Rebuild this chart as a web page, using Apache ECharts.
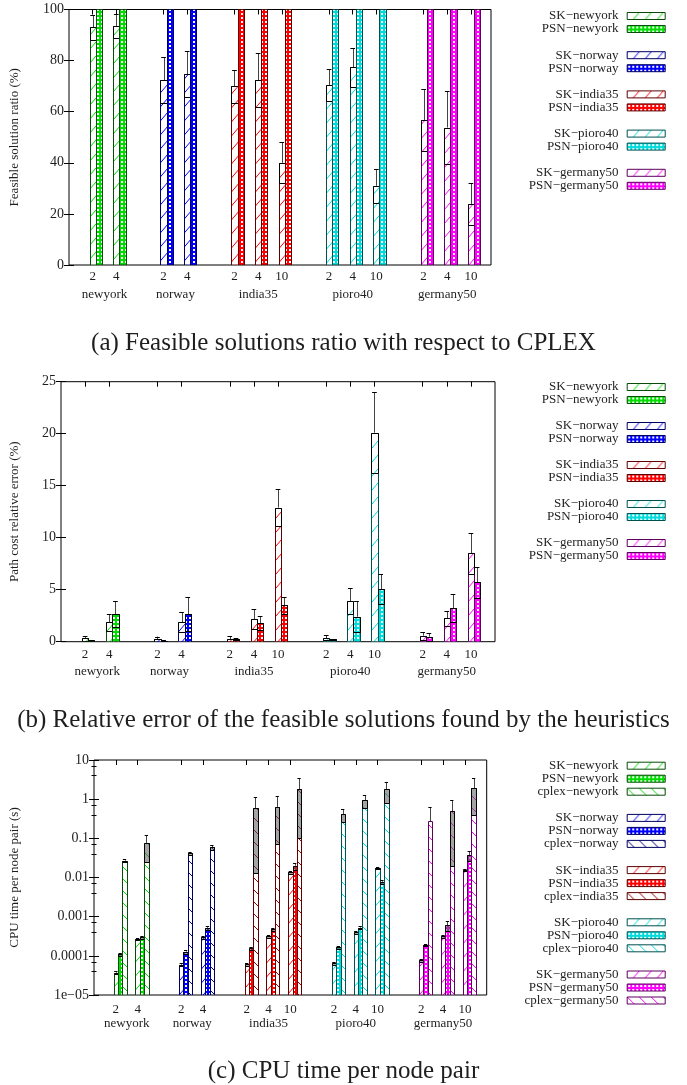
<!DOCTYPE html>
<html>
<head>
<meta charset="utf-8">
<script src="https://cdn.jsdelivr.net/npm/echarts@6/dist/echarts.min.js"></script>
<style>
  html, body { margin: 0; padding: 0; background: #fff; }
  #chart { width: 687px; height: 1085px; }
</style>
</head>
<body>
<div id="chart"></div>
<script>
// ---- data -------------------------------------------------------------
const groupNames = ['newyork', 'norway', 'india35', 'pioro40', 'germany50'];
const groupKs = [[2, 4], [2, 4], [2, 4, 10], [2, 4, 10], [2, 4, 10]];

// (a) feasible solution ratio (%)
const skRatio     = [[93.0, 93.5], [72.3, 74.7], [70.0, 72.3, 40.0], [70.4, 77.3, 31.0], [56.7, 53.8, 23.9]];
const skRatioErr  = [[5.0, 4.8], [9.0, 9.0], [6.5, 10.5, 8.0], [6.3, 7.5, 6.6], [12.0, 14.4, 8.3]];
const psnRatio    = [[100, 100], [100, 100], [100, 100, 100], [100, 100, 100], [100, 100, 100]];
const psnRatioErr = [[0, 0], [0, 0], [0, 0, 0], [0, 0, 0], [0, 0, 0]];

// (b) path cost relative error (%)
const skRelErr     = [[0.32, 1.86], [0.22, 1.86], [0.29, 2.15, 12.9], [0.38, 3.9, 20.1], [0.58, 2.24, 8.49]];
const skRelErrDev  = [[0.26, 0.85], [0.26, 0.96], [0.29, 0.96, 1.75], [0.26, 1.25, 3.9], [0.38, 0.72, 1.95]];
const psnRelErr    = [[0.16, 2.63], [0.10, 2.66], [0.22, 1.76, 3.49], [0.22, 2.4, 5.03], [0.48, 3.2, 5.7]];
const psnRelErrDev = [[0.05, 1.25], [0.05, 1.65], [0.10, 0.68, 0.8], [0.06, 1.5, 1.44], [0.38, 1.35, 1.45]];

// (c) CPU time per node pair (s)
const skTime      = [[3.7e-5, 2.7e-4], [5.9e-5, 2.95e-4], [6.1e-5, 3.2e-4, 0.0138], [6.5e-5, 4.0e-4, 0.0178], [7.7e-5, 3.2e-4, 0.0155]];
const skTimeDev   = [[0.3e-5, 0.2e-4], [0.5e-5, 0.25e-4], [0.5e-5, 0.3e-4, 0.0012], [0.5e-5, 0.3e-4, 0.001], [0.6e-5, 0.3e-4, 0.001]];
const psnTime     = [[1.1e-4, 2.95e-4], [1.28e-4, 5.2e-4], [1.55e-4, 4.75e-4, 0.020], [1.65e-4, 5.25e-4, 0.0078], [1.89e-4, 6.1e-4, 0.0375]];
const psnTimeDev  = [[0.1e-4, 0.2e-4], [0.15e-4, 0.6e-4], [0.1e-4, 0.4e-4, 0.004], [0.15e-4, 0.4e-4, 0.0008], [0.15e-4, 1.8e-4, 0.0105]];
const cplexTime   = [[0.027, 0.0745], [0.0414, 0.0589], [0.583, 0.63, 1.78], [0.41, 0.93, 1.78], [0.277, 0.5, 1.89]];
const cplexTimeDev= [[0.002, 0.05], [0.003, 0.008], [0.57, 0.56, 1.68], [0.15, 0.33, 1.0], [0.34, 0.48, 1.5]];

const logTickLabels = ['1e\u221205', '0.0001', '0.001', '0.01', '0.1', '1', '10'];

const captions = [
  '(a) Feasible solutions ratio with respect to CPLEX',
  '(b) Relative error of the feasible solutions found by the heuristics',
  '(c) CPU time per node pair'
];

// ---- styling ------------------------------------------------------------
const FONT = 'Liberation Serif';
const TXT = '#1e1e1e';
const MINUS = '\u2212';

const groupColor  = ['#00dd00', '#0000ff', '#ff0000', '#00dcdc', '#ff00ff'];
const groupBorder = ['#0a4a0a', '#000060', '#5e0000', '#005050', '#5e005e'];
const cplexColor  = ['#00dd00', '#000080', '#a00000', '#00dcdc', '#ff00ff'];

function hatch(color, dir, w, h) {
  const c = document.createElement('canvas');
  c.width = w; c.height = h;
  const g = c.getContext('2d');
  g.fillStyle = '#fff';
  g.fillRect(0, 0, w, h);
  g.strokeStyle = color;
  g.lineWidth = 1;
  g.beginPath();
  for (let k = -1; k <= 1; k++) {
    if (dir === '/') { g.moveTo(k * w, h); g.lineTo((k + 1) * w, 0); }
    else { g.moveTo(k * w, 0); g.lineTo((k + 1) * w, h); }
  }
  g.stroke();
  return { image: c, repeat: 'repeat' };
}
function dots(color) {
  const c = document.createElement('canvas');
  c.width = 4; c.height = 4;
  const g = c.getContext('2d');
  g.fillStyle = color;
  g.fillRect(0, 0, 4, 4);
  g.fillStyle = '#fff';
  g.fillRect(1, 1, 2, 2);
  return { image: c, repeat: 'repeat' };
}

// x positions: one slot per K, one empty slot between networks
const groupPos = [];
(function () {
  let p = 1;
  groupKs.forEach(ks => {
    groupPos.push(ks.map(() => p++));
    p++;
  });
})();
const tickPos = groupPos.flat();
const tickText = {};
groupPos.forEach((ps, g) => ps.forEach((p, i) => { tickText[p] = String(groupKs[g][i]); }));
const groupMid = groupPos.map(ps => (ps[0] + ps[ps.length - 1]) / 2);
const midText = {};
groupMid.forEach((m, g) => { midText[m] = groupNames[g]; });

// ---- panels ---------------------------------------------------------------
const panels = [
  {
    grid: { left: 68.3, top: 9.5, width: 422.7, height: 255.5 },
    xMax: 17.85, barW: 0.262, log: false, yMin: 0, yMax: 100, yStep: 20,
    yName: 'Feasible solution ratio (%)', nameGap: 48,
    numMargin: 5, nameMargin: 23, boxFill: null,
    methods: [
      { tag: 'SK', vals: skRatio, errs: skRatioErr, kind: 'sk' },
      { tag: 'PSN', vals: psnRatio, errs: psnRatioErr, kind: 'psn' }
    ],
    legendTop: 9.5, legendStep: 39.2, caption: 340
  },
  {
    grid: { left: 60, top: 381.7, width: 435, height: 260 },
    xMax: 18, barW: 0.257, log: false, yMin: 0, yMax: 25, yStep: 5,
    yName: 'Path cost relative error (%)', nameGap: 40,
    numMargin: 6.5, nameMargin: 23, boxFill: null,
    methods: [
      { tag: 'SK', vals: skRelErr, errs: skRelErrDev, kind: 'sk' },
      { tag: 'PSN', vals: psnRelErr, errs: psnRelErrDev, kind: 'psn' }
    ],
    legendTop: 380.5, legendStep: 39, caption: 717
  },
  {
    grid: { left: 91.7, top: 760, width: 395, height: 235 },
    xMax: 18, barW: 0.2, log: true, yMin: 1e-5, yMax: 10, yStep: 1,
    yName: 'CPU time per node pair (s)', nameGap: 73,
    numMargin: 8, nameMargin: 22.5, boxFill: 'rgba(90,90,90,0.55)',
    methods: [
      { tag: 'SK', vals: skTime, errs: skTimeDev, kind: 'sk' },
      { tag: 'PSN', vals: psnTime, errs: psnTimeDev, kind: 'psn' },
      { tag: 'cplex', vals: cplexTime, errs: cplexTimeDev, kind: 'cplex' }
    ],
    legendTop: 759.2, legendStep: 52.2, caption: 1068
  }
];

function crisp(v) { return Math.round(v) + 0.5; }

function makeRender(panel, slot, fill, stroke) {
  return function (params, api) {
    const x = api.value(0), m = api.value(1), e = api.value(2);
    const cs = params.coordSys;
    const p0 = api.coord([x, m]);
    const unit = api.coord([x + 1, m])[0] - p0[0];
    const bw = unit * panel.barW;
    const cx = p0[0] + slot * bw;
    const yTop = p0[1];
    const yBase = cs.y + cs.height;
    const xl = crisp(cx - bw / 2), xr = crisp(cx + bw / 2);
    const children = [{
      type: 'rect',
      shape: { x: xl, y: crisp(yTop), width: xr - xl, height: yBase - crisp(yTop) },
      style: { fill: fill, stroke: stroke, lineWidth: 1 }
    }];
    if (e > 0) {
      const yHi = Math.max(api.coord([x, m + e])[1], cs.y);
      const lo = m - e;
      const hasLo = panel.log ? lo > panel.yMin : true;
      const yLo = hasLo ? api.coord([x, Math.max(lo, panel.yMin)])[1] : yBase;
      const xc = crisp(cx);
      const capHalf = Math.max(1.5, bw * 0.38);
      children.push({
        type: 'line',
        shape: { x1: xc, y1: yTop, x2: xc, y2: crisp(yHi) },
        style: { stroke: '#444', lineWidth: 1 }
      });
      children.push({
        type: 'line',
        shape: { x1: cx - capHalf, y1: crisp(yHi), x2: cx + capHalf, y2: crisp(yHi) },
        style: { stroke: '#000', lineWidth: 1 }
      });
      if (hasLo) {
        children.push({
          type: 'rect',
          shape: { x: xl, y: crisp(yTop), width: xr - xl, height: crisp(yLo) - crisp(yTop) },
          style: { fill: panel.boxFill || 'none', stroke: '#000', lineWidth: 1 }
        });
      }
    }
    return { type: 'group', children: children };
  };
}

const grids = [], xAxes = [], yAxes = [], series = [], legends = [], titles = [];

panels.forEach((pn, pi) => {
  grids.push(Object.assign({ show: true, borderColor: '#000', borderWidth: 1, backgroundColor: 'transparent' }, pn.grid));

  const xBase = { gridIndex: pi, type: 'value', min: 0, max: pn.xMax, splitLine: { show: false }, axisLine: { show: false } };
  // K labels + bottom ticks
  xAxes.push(Object.assign({}, xBase, {
    position: 'bottom',
    axisTick: { show: true, inside: true, length: 5, customValues: tickPos, lineStyle: { color: '#000' } },
    axisLabel: {
      customValues: tickPos, margin: pn.numMargin,
      formatter: v => tickText[v] || '',
      fontFamily: FONT, fontSize: 13, color: TXT
    }
  }));
  const xMain = xAxes.length - 1;
  // network names
  xAxes.push(Object.assign({}, xBase, {
    position: 'bottom',
    axisTick: { show: false },
    axisLabel: {
      customValues: groupMid, margin: pn.nameMargin,
      formatter: v => midText[v] || '',
      fontFamily: FONT, fontSize: 13, color: TXT
    }
  }));
  // mirrored top ticks
  xAxes.push(Object.assign({}, xBase, {
    position: 'top',
    axisTick: { show: true, inside: true, length: 5, customValues: tickPos, lineStyle: { color: '#000' } },
    axisLabel: { show: false }
  }));

  const yBase = {
    gridIndex: pi, type: pn.log ? 'log' : 'value', min: pn.yMin, max: pn.yMax,
    splitLine: { show: false }, axisLine: { show: false },
    axisTick: { show: true, inside: true, length: 5, lineStyle: { color: '#000' } },
    minorTick: pn.log ? { show: true, splitNumber: 3, length: 2.5, lineStyle: { color: '#000' } } : { show: false }
  };
  if (pn.log) { yBase.logBase = 10; } else { yBase.interval = pn.yStep; }
  yAxes.push(Object.assign({}, yBase, {
    position: 'left',
    axisLabel: {
      margin: 5, fontFamily: FONT, fontSize: 14, color: TXT,
      formatter: pn.log ? (v => logTickLabels[Math.round(Math.log10(v)) + 5]) : (v => String(v))
    },
    name: pn.yName, nameLocation: 'middle', nameRotate: 90, nameGap: pn.nameGap,
    nameTextStyle: { fontFamily: FONT, fontSize: 13, color: TXT }
  }));
  const yMain = yAxes.length - 1;
  yAxes.push(Object.assign({}, yBase, { position: 'right', axisLabel: { show: false } }));

  groupNames.forEach((gname, g) => {
    const names = [];
    pn.methods.forEach((md, slot) => {
      let fill;
      if (md.kind === 'sk') fill = hatch(groupColor[g], '/', 12, 14);
      else if (md.kind === 'psn') fill = dots(groupColor[g]);
      else fill = hatch(cplexColor[g], '\\', 12, 12);
      const name = md.tag + MINUS + gname;
      names.push(name);
      series.push({
        type: 'custom',
        name: name,
        xAxisIndex: xMain,
        yAxisIndex: yMain,
        clip: true,
        itemStyle: { color: fill, borderColor: groupBorder[g], borderWidth: 1 },
        data: groupPos[g].map((p, i) => [p, md.vals[g][i], md.errs[g][i]]),
        renderItem: makeRender(pn, slot, fill, groupBorder[g])
      });
    });
    legends.push({
      orient: 'vertical', align: 'right', right: 21.3, top: pn.legendTop + g * pn.legendStep,
      padding: 0, itemGap: 0, itemWidth: 38, itemHeight: 7, icon: 'rect', selectedMode: false,
      data: names,
      itemStyle: { borderWidth: 1 },
      textStyle: { fontFamily: FONT, fontSize: 13, color: TXT, lineHeight: 13, padding: [0, 3.7, 0, 0] }
    });
  });

  titles.push({
    text: captions[pi], left: 'center', top: pn.caption - 14.5,
    textStyle: { fontFamily: FONT, fontWeight: 'normal', fontSize: 25, color: TXT }
  });
});

const chart = echarts.init(document.getElementById('chart'), null, { renderer: 'canvas' });
chart.setOption({
  animation: false,
  backgroundColor: '#fff',
  title: titles,
  grid: grids,
  xAxis: xAxes,
  yAxis: yAxes,
  legend: legends,
  series: series
});
</script>
</body>
</html>
